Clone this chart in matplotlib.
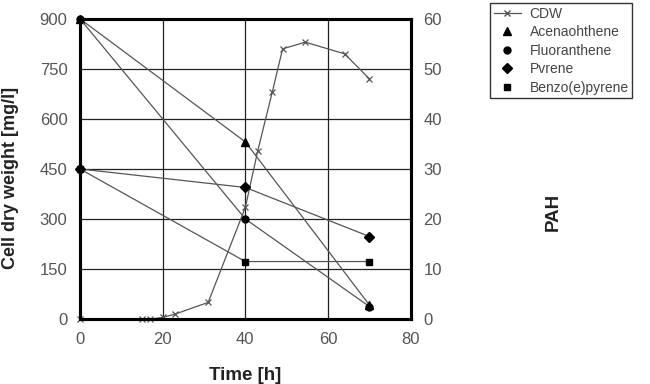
import matplotlib.pyplot as plt
from matplotlib.lines import Line2D

plt.rcParams['font.family'] = ['Liberation Sans', 'DejaVu Sans']

# cell dry weight (left axis)
cdw_t = [0, 15, 17, 20, 23, 31, 40, 43, 46.5, 49, 54.5, 64, 70]
cdw = [0, 0, 0, 5, 15, 50, 335, 505, 680, 810, 830, 795, 720]

# PAH concentrations (right axis)
pah_t = [0, 40, 70]
acenaphthene = [60, 35.4, 2.8]
fluoranthene = [60, 20, 2.5]
pyrene = [30, 26.3, 16.5]
benzo_e_pyrene = [30, 11.5, 11.5]

line_col = '#555555'

fig = plt.figure(figsize=(6.5, 3.84), dpi=100)
ax = fig.add_axes([0.123, 0.169, 0.509, 0.782])
ax2 = ax.twinx()

ax.plot(cdw_t, cdw, color=line_col, lw=0.9, marker='x', ms=5, mew=0.9,
        mec=line_col, clip_on=False, zorder=3)

ax2.plot(pah_t, acenaphthene, color=line_col, lw=0.9, marker='^', ms=6,
         mfc='black', mec='black', clip_on=False)
ax2.plot(pah_t, fluoranthene, color=line_col, lw=0.9, marker='o', ms=5,
         mfc='black', mec='black', clip_on=False)
ax2.plot(pah_t, pyrene, color=line_col, lw=0.9, marker='D', ms=5,
         mfc='black', mec='black', clip_on=False)
ax2.plot(pah_t, benzo_e_pyrene, color=line_col, lw=0.9, marker='s', ms=5,
         mfc='black', mec='black', clip_on=False)

ax.set_xlim(0, 80)
ax.set_ylim(0, 900)
ax2.set_ylim(0, 60)
ax.set_xticks(range(0, 81, 20))
ax.set_yticks(range(0, 901, 150))
ax2.set_yticks(range(0, 61, 10))

ax.grid(True, color='#222222', lw=0.9)
ax.set_axisbelow(True)
for a in (ax, ax2):
    for s in a.spines.values():
        s.set_linewidth(2.2)
        s.set_color('black')
    a.tick_params(length=0, labelsize=12, labelcolor='#555555', pad=9)

ax.set_xlabel('Time [h]', fontsize=13.5, fontweight='bold', color='#222222')
ax.xaxis.set_label_coords(0.5, -0.158)
ax.xaxis.label.set_va('top')
ax.set_ylabel('Cell dry weight [mg/l]', fontsize=13, fontweight='bold', color='#222222')
ax.yaxis.set_label_coords(-0.183, 0.47)
ax2.set_ylabel('PAH', fontsize=13.5, fontweight='bold', color='#222222')
ax2.yaxis.set_label_coords(1.405, 0.357)

handles = [
    Line2D([], [], color=line_col, lw=0.9, marker='x', ms=5, mec=line_col),
    Line2D([], [], ls='none', marker='^', ms=6, color='black'),
    Line2D([], [], ls='none', marker='o', ms=5, color='black'),
    Line2D([], [], ls='none', marker='D', ms=5, color='black'),
    Line2D([], [], ls='none', marker='s', ms=5, color='black'),
]
labels = ['CDW', 'Acenaohthene', 'Fluoranthene', 'Pvrene', 'Benzo(e)pyrene']
leg = fig.legend(handles, labels, loc='upper left', bbox_to_anchor=(0.754, 0.992),
                 fontsize=10, frameon=True, fancybox=False, framealpha=1,
                 edgecolor='#333333', handlelength=2.0, labelspacing=0.33,
                 borderpad=0.25, handletextpad=0.6, borderaxespad=0)
leg.get_frame().set_linewidth(1.0)
for t in leg.get_texts():
    t.set_color('#444444')

fig.savefig('out.png', dpi=100)
